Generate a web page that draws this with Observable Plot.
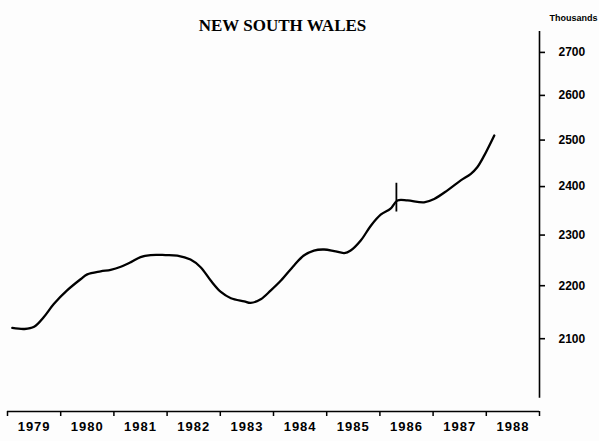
<!DOCTYPE html>
<html>
<head>
<meta charset="utf-8">
<script src="https://cdn.jsdelivr.net/npm/d3@7"></script>
<script src="https://cdn.jsdelivr.net/npm/@observablehq/plot@0.6"></script>
<style>
  html, body { margin: 0; padding: 0; background: #fdfdfd; }
  #chart svg { display: block; }
  .xl text { letter-spacing: 1px; }
</style>
</head>
<body>
<div id="chart"></div>
<script>
// ---- data ----
const title = "NEW SOUTH WALES";
const unitLabel = "Thousands";
const years = [1979.09, 1979.32, 1979.50, 1979.68, 1979.87, 1980.12, 1980.38, 1980.50, 1980.75, 1980.94,
  1981.13, 1981.32, 1981.50, 1981.69, 1981.97, 1982.19, 1982.44, 1982.63, 1982.82, 1983.01,
  1983.20, 1983.45, 1983.57, 1983.76, 1983.95, 1984.14, 1984.39, 1984.57, 1984.76, 1984.95,
  1985.14, 1985.33, 1985.45, 1985.64, 1985.83, 1986.02, 1986.20, 1986.33, 1986.52, 1986.83,
  1987.02, 1987.27, 1987.52, 1987.71, 1987.83, 1987.96, 1988.15];
const population = [2120, 2118, 2122, 2140, 2165, 2191, 2213, 2222, 2228, 2231,
  2237, 2246, 2256, 2260, 2260, 2259, 2251, 2236, 2210, 2188,
  2176, 2170, 2167, 2174, 2191, 2210, 2240, 2259, 2269, 2271,
  2268, 2264, 2269, 2289, 2319, 2342, 2354, 2371, 2371, 2367,
  2374, 2392, 2413, 2427, 2441, 2466, 2510];
const censusYear = [1986.31];
const censusLow = [2347];
const censusHigh = [2407];
const yTicks = [2100, 2200, 2300, 2400, 2500, 2600, 2700];
const xTicks = [1979, 1980, 1981, 1982, 1983, 1984, 1985, 1986, 1987, 1988, 1989];
const xLabels = [1979, 1980, 1981, 1982, 1983, 1984, 1985, 1986, 1987, 1988];
const yDomain = [1970, 2750];
const yAxisFloor = 1993;

const series = years.map((t, i) => ({year: t, value: population[i]}));
const census = censusYear.map((t, i) => ({year: t, lo: censusLow[i], hi: censusHigh[i]}));
const xEnd = xTicks[xTicks.length - 1];

const sans = "Liberation Sans, Arial, sans-serif";

const chart = Plot.plot({
  width: 599,
  height: 441,
  marginLeft: 7,
  marginRight: 60,
  marginTop: 31,
  marginBottom: 30,
  style: {background: "transparent", color: "black"},
  x: {domain: [xTicks[0], xEnd], axis: null, label: null},
  y: {type: "log", domain: yDomain, axis: null, label: null},
  marks: [
    // x axis line and year boundary ticks
    Plot.ruleY([yDomain[0]], {x1: xTicks[0], x2: xEnd, stroke: "black", strokeWidth: 1.5}),
    Plot.axisX({ticks: xTicks, tickSize: 5, tickFormat: () => "", label: null, strokeWidth: 1.5}),
    Plot.axisX({
      ticks: xLabels.map(d => d + 0.5), tickSize: 0, tickPadding: 10, label: null,
      tickFormat: d => String(Math.floor(d)),
      fontSize: 13, fontWeight: "bold", fontFamily: sans, className: "xl"
    }),
    // y axis line on the right
    Plot.ruleX([xEnd], {y1: yAxisFloor, y2: yDomain[1], stroke: "black", strokeWidth: 1.6}),
    Plot.axisY({
      anchor: "right", ticks: yTicks, tickSize: 5, tickPadding: 14, label: null,
      tickFormat: d => String(d), strokeWidth: 1.6,
      fontSize: 12, fontWeight: "bold", fontFamily: sans
    }),
    // series
    Plot.line(series, {x: "year", y: "value", curve: "catmull-rom", stroke: "black", strokeWidth: 2.3}),
    Plot.ruleX(census, {x: "year", y1: "lo", y2: "hi", stroke: "black", strokeWidth: 1.8}),
    // title and unit
    Plot.text([title], {
      frameAnchor: "top", dx: 9, dy: -12.5, fontSize: 17, fontWeight: "bold",
      fontFamily: "Liberation Serif, Times New Roman, serif"
    }),
    Plot.text([unitLabel], {
      frameAnchor: "top-right", dx: 34, dy: -17, textAnchor: "middle",
      fontSize: 9, fontWeight: "bold", fontFamily: sans
    })
  ]
});
document.getElementById("chart").appendChild(chart);
</script>
</body>
</html>
